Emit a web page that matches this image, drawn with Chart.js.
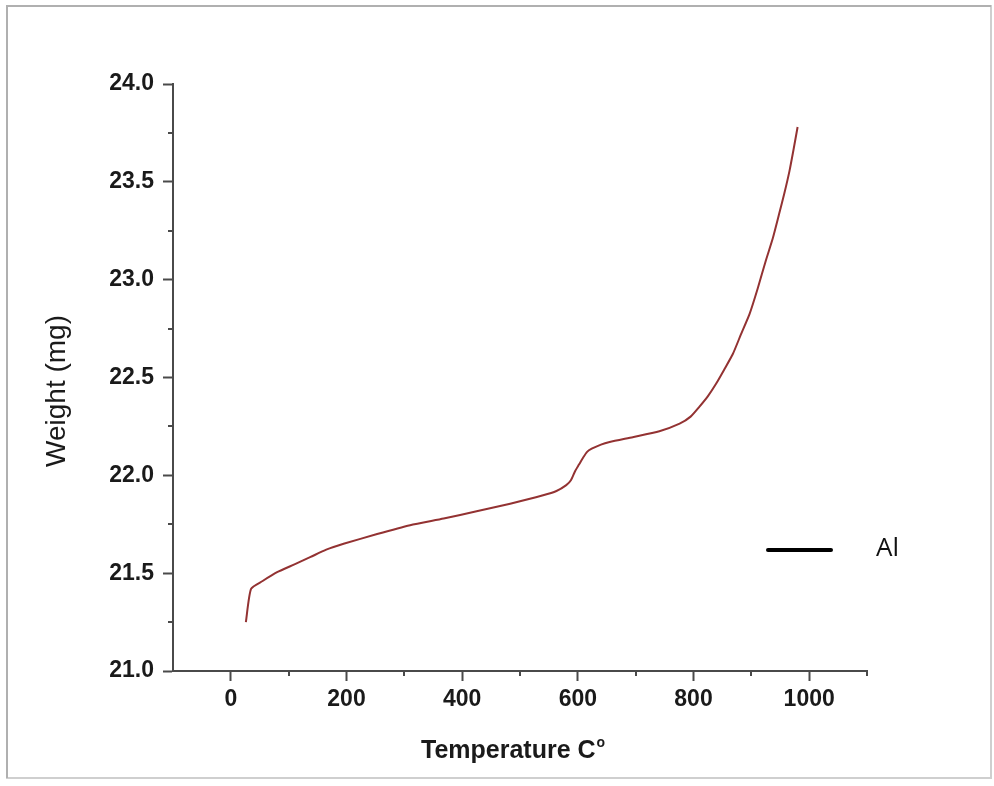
<!DOCTYPE html>
<html>
<head>
<meta charset="utf-8">
<script src="https://cdn.jsdelivr.net/npm/chart.js@4.4.1/dist/chart.umd.min.js"></script>
<style>
  html, body { margin: 0; padding: 0; background: #fff; }
  #wrap { width: 994px; height: 786px; }
</style>
</head>
<body>
<div id="wrap"><canvas id="tga" width="994" height="786"></canvas></div>
<script>
// TGA curve
var temps = [26, 35, 55, 80, 110, 138, 165, 195, 253, 310, 368, 425, 483, 540, 563, 580, 588, 595, 602, 609, 616, 624, 640, 655, 695, 741, 776, 795, 810, 825, 839, 853, 868, 882, 897, 911, 925, 937, 948, 957, 966, 973, 980];
var weights = [21.25, 21.42, 21.46, 21.505, 21.545, 21.583, 21.62, 21.65, 21.70, 21.745, 21.779, 21.816, 21.855, 21.898, 21.92, 21.95, 21.975, 22.02, 22.055, 22.09, 22.12, 22.136, 22.157, 22.17, 22.195, 22.225, 22.264, 22.30, 22.35, 22.405, 22.468, 22.54, 22.62, 22.72, 22.825, 22.955, 23.097, 23.21, 23.335, 23.44, 23.556, 23.665, 23.78];

var xTicks = [0, 200, 400, 600, 800, 1000];
var xMinor = [100, 300, 500, 700, 900, 1100];
var yMinor = [21.25, 21.75, 22.25, 22.75, 23.25, 23.75];

var seriesName = "Al";
var xTitle = "Temperature C";
var yTitle = "Weight (mg)";

var FONT = "'Liberation Sans', Arial, sans-serif";
var AXIS = "#4a4a4a";

var points = temps.map(function (t, i) { return { x: t, y: weights[i] }; });

// frame, minor ticks, titles and legend
var extras = {
  id: "extras",
  afterDraw: function (chart) {
    var ctx = chart.ctx;
    var xs = chart.scales.x, ys = chart.scales.y;
    var area = chart.chartArea;
    ctx.save();

    // outer frame of the picture
    ctx.strokeStyle = "#cfcfcf";
    ctx.lineWidth = 2;
    ctx.strokeRect(7, 6, 984, 772);
    ctx.strokeStyle = "#b0b0b0";
    ctx.beginPath();
    ctx.moveTo(7, 778);
    ctx.lineTo(7, 6);
    ctx.lineTo(991, 6);
    ctx.stroke();

    // minor ticks
    ctx.strokeStyle = AXIS;
    ctx.lineWidth = 2;
    ctx.beginPath();
    xMinor.forEach(function (v) {
      var px = Math.round(xs.getPixelForValue(v));
      ctx.moveTo(px, area.bottom);
      ctx.lineTo(px, area.bottom + 5);
    });
    yMinor.forEach(function (v) {
      var py = Math.round(ys.getPixelForValue(v));
      ctx.moveTo(area.left, py);
      ctx.lineTo(area.left - 5, py);
    });
    ctx.stroke();

    // x title with superscript o
    ctx.fillStyle = "#1a1a1a";
    ctx.font = "bold 25px " + FONT;
    ctx.textAlign = "left";
    ctx.textBaseline = "alphabetic";
    ctx.fillText(xTitle, 421, 758);
    var w = ctx.measureText(xTitle).width;
    ctx.font = "bold 14px " + FONT;
    ctx.fillText("o", 421 + w + 1, 747);

    // y title
    ctx.save();
    ctx.translate(65, 391);
    ctx.rotate(-Math.PI / 2);
    ctx.font = "28px " + FONT;
    ctx.textAlign = "center";
    ctx.fillText(yTitle, 0, 0);
    ctx.restore();

    // legend
    ctx.strokeStyle = "#000";
    ctx.lineWidth = 4;
    ctx.lineCap = "round";
    ctx.beginPath();
    ctx.moveTo(768, 550);
    ctx.lineTo(831, 550);
    ctx.stroke();
    ctx.fillStyle = "#111";
    ctx.font = "26px 'Open Sans', " + FONT;
    ctx.textBaseline = "middle";
    ctx.fillText(seriesName, 876, 549);

    ctx.restore();
  }
};

var config = {
  type: "line",
  data: {
    datasets: [{
      label: seriesName,
      data: points,
      borderColor: "#933232",
      borderWidth: 2,
      pointRadius: 0,
      fill: false,
      tension: 0.2
    }]
  },
  options: {
    responsive: false,
    animation: false,
    layout: { padding: { left: 0, top: 84, right: 127, bottom: 0 } },
    plugins: {
      legend: { display: false },
      tooltip: { enabled: false }
    },
    scales: {
      x: {
        type: "linear",
        min: -100,
        max: 1100,
        afterBuildTicks: function (s) {
          s.ticks = xTicks.map(function (v) { return { value: v }; });
        },
        afterFit: function (s) { s.height = 115; },
        border: { display: true, color: AXIS, width: 2 },
        grid: { display: true, drawOnChartArea: false, drawTicks: true, tickLength: 10, tickColor: AXIS, tickWidth: 2 },
        ticks: {
          color: "#1a1a1a",
          padding: 5,
          maxRotation: 0,
          font: { family: FONT, size: 23, weight: "bold" },
          callback: function (v) { return String(v); }
        }
      },
      y: {
        min: 21,
        max: 24,
        afterFit: function (s) { s.width = 173; },
        border: { display: true, color: AXIS, width: 2 },
        grid: { display: true, drawOnChartArea: false, drawTicks: true, tickLength: 10, tickColor: AXIS, tickWidth: 2 },
        ticks: {
          stepSize: 0.5,
          color: "#1a1a1a",
          padding: 9,
          font: { family: FONT, size: 23, weight: "bold" },
          callback: function (v) { return Number(v).toFixed(1); }
        }
      }
    }
  },
  plugins: [extras]
};

new Chart(document.getElementById("tga").getContext("2d"), config);
</script>
</body>
</html>
